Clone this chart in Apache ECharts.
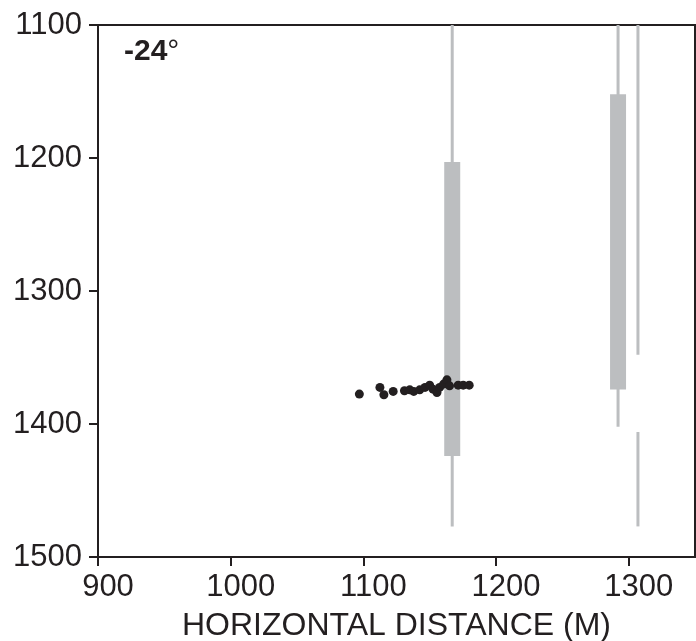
<!DOCTYPE html>
<html>
<head>
<meta charset="utf-8">
<script src="https://cdn.jsdelivr.net/npm/echarts@6/dist/echarts.min.js"></script>
<style>
  html, body { margin: 0; padding: 0; background: #ffffff; }
  #chart { width: 696px; height: 641px; }
</style>
</head>
<body>
<div id="chart"></div>
<script>
// Observed points: [horizontal distance (m), depth (m)]
const points = [
  [1097, 1377.5], [1112.5, 1372.5], [1115.5, 1378], [1122.5, 1375.5],
  [1131, 1375], [1135, 1374.3], [1138, 1375.5], [1142.5, 1374.3],
  [1146.5, 1372.5], [1150, 1370.8], [1152.5, 1373.8], [1155.5, 1376.3],
  [1157.5, 1372.5], [1160.5, 1370], [1163, 1366.8], [1165, 1371.3],
  [1171.5, 1370.8], [1175.3, 1370.8], [1179.8, 1370.8]
];

// Thin vertical traces: [x, top depth, bottom depth]
const traces = [
  [1167, 1100, 1477],
  [1292, 1100, 1402],
  [1307, 1100, 1348],
  [1307, 1406, 1477]
];

// Thick intervals: [x, top depth, bottom depth]
const intervals = [
  [1167, 1203, 1424],
  [1292, 1152, 1374]
];

const xTicks = [900, 1000, 1100, 1200, 1300];
const yTicks = [1100, 1200, 1300, 1400, 1500];
const angleLabel = '-24';

const ink = '#231f20';
const grey = '#bcbec0';
const font = 'Liberation Sans, Arial, Helvetica, sans-serif';

const chart = echarts.init(document.getElementById('chart'), null, { renderer: 'canvas' });

function verticalRect(params, api, width) {
  const top = api.coord([api.value(0), api.value(1)]);
  const bottom = api.coord([api.value(0), api.value(2)]);
  return {
    type: 'rect',
    shape: { x: top[0] - width / 2, y: top[1], width: width, height: bottom[1] - top[1] },
    style: { fill: grey }
  };
}

const plain = function (v) { return String(v); };

chart.setOption({
  animation: false,
  backgroundColor: '#ffffff',
  grid: {
    left: 98, right: 1, top: 25, bottom: 84,
    outerBoundsMode: 'none',
    containLabel: false,
    show: true, borderColor: ink, borderWidth: 2, backgroundColor: 'transparent'
  },
  xAxis: {
    type: 'value',
    min: 900, max: 1350, interval: 100,
    name: 'HORIZONTAL DISTANCE (M)',
    nameLocation: 'middle',
    nameGap: 53,
    nameTextStyle: { fontFamily: font, fontSize: 32, color: ink, verticalAlign: 'top' },
    axisLine: { show: true, lineStyle: { color: ink, width: 2 } },
    axisTick: { show: true, inside: false, length: 9, lineStyle: { color: ink, width: 2 }, customValues: xTicks },
    axisLabel: {
      fontFamily: font, fontSize: 31, color: ink, margin: 15,
      padding: [0, 0, 0, 20], customValues: xTicks, formatter: plain
    },
    splitLine: { show: false }
  },
  yAxis: {
    type: 'value',
    inverse: true,
    min: 1100, max: 1500, interval: 100,
    axisLine: { show: true, lineStyle: { color: ink, width: 2 } },
    axisTick: { show: true, inside: false, length: 9, lineStyle: { color: ink, width: 2 }, customValues: yTicks },
    axisLabel: {
      fontFamily: font, fontSize: 31, color: ink, margin: 16,
      padding: [0, 0, 5, 0], customValues: yTicks, formatter: plain
    },
    splitLine: { show: false }
  },
  graphic: [{
    type: 'text',
    left: 124,
    top: 37,
    style: {
      text: '{b|' + angleLabel + '}{d|°}',
      rich: {
        b: { fontFamily: font, fontSize: 30, fontWeight: 'bold', fill: ink },
        d: { fontFamily: font, fontSize: 30, fill: ink }
      }
    }
  }],
  series: [
    {
      type: 'custom',
      data: traces,
      renderItem: function (params, api) { return verticalRect(params, api, 3); },
      z: 1
    },
    {
      type: 'custom',
      data: intervals,
      renderItem: function (params, api) { return verticalRect(params, api, 16); },
      z: 2
    },
    {
      type: 'scatter',
      data: points,
      symbol: 'circle',
      symbolSize: 9,
      itemStyle: { color: ink, opacity: 1 },
      z: 3
    }
  ]
});
</script>
</body>
</html>
